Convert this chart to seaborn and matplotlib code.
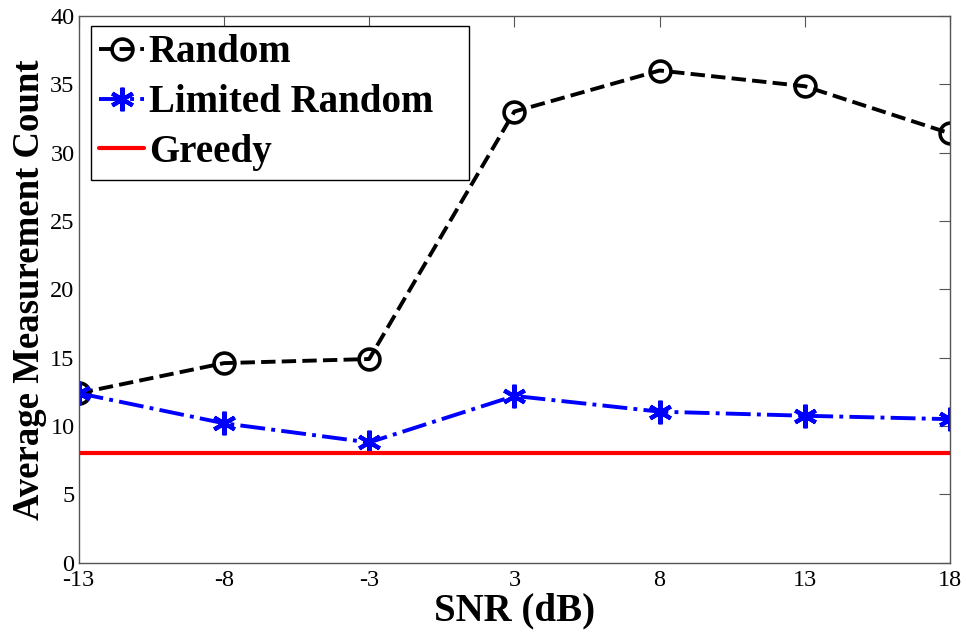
import matplotlib
matplotlib.use("Agg")
import matplotlib.pyplot as plt
import seaborn as sns

snr_labels = ["-13", "-8", "-3", "3", "8", "13", "18"]
random_counts = [12.4, 14.6, 14.9, 33.0, 36.0, 34.85, 31.4]
limited_random_counts = [12.4, 10.2, 8.8, 12.2, 11.05, 10.75, 10.5]
greedy_counts = [8.0, 8.0, 8.0, 8.0, 8.0, 8.0, 8.0]

sns.set_theme(style="white")
plt.rcParams["font.family"] = ["Liberation Serif", "DejaVu Serif"]
plt.rcParams["text.color"] = "black"
plt.rcParams["axes.labelcolor"] = "black"

positions = list(range(len(snr_labels)))

fig = plt.figure(figsize=(9.66, 6.33), dpi=100)
ax = fig.add_axes([0.0815, 0.111, 0.902, 0.864])

sns.lineplot(x=positions, y=random_counts, ax=ax, color="black", linestyle="--",
             linewidth=2.8, marker="o", markersize=15, markerfacecolor="none",
             markeredgecolor="black", markeredgewidth=2.6, label="Random")
sns.lineplot(x=positions, y=limited_random_counts, ax=ax, color="blue", linestyle="-.",
             linewidth=2.8, marker=(6, 2, 0), markersize=17, markeredgecolor="blue",
             markeredgewidth=3.0, label="Limited Random")
sns.lineplot(x=positions, y=greedy_counts, ax=ax, color="red", linestyle="-",
             linewidth=3.0, label="Greedy")

ax.set_xlim(0, len(snr_labels) - 1)
ax.set_ylim(0, 40)
ax.set_xticks(positions)
ax.set_xticklabels(snr_labels)
ax.set_yticks(range(0, 41, 5))

ax.tick_params(direction="in", length=8, width=0.8, top=True, right=True,
               labelsize=17.5, labelcolor="black", color="#555555", pad=3)
ax.tick_params(axis="x", pad=5)
for spine in ax.spines.values():
    spine.set_color("#555555")
    spine.set_linewidth(1.0)

ax.set_xlabel("SNR (dB)", fontsize=28, fontweight="bold", labelpad=1)
ax.set_ylabel("Average Measurement Count", fontsize=26.5, fontweight="bold", labelpad=2)

# legend box stretched to the width it has in the original
leg = ax.legend(loc="upper left", bbox_to_anchor=(0.0138, 0.0, 0.434, 0.9817),
                mode="expand", prop={"weight": "bold", "size": 28},
                handlelength=1.15, handletextpad=0.12, borderpad=0.22,
                labelspacing=0.33, borderaxespad=0.0, frameon=True,
                fancybox=False, edgecolor="black", framealpha=1)
leg.get_frame().set_linewidth(1.0)
for text in leg.get_texts():
    text.set_color("black")

fig.savefig("out.png", dpi=100)
